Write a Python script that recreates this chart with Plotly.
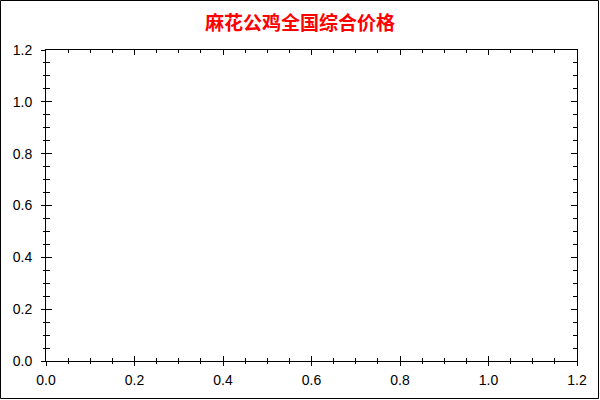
import plotly.graph_objects as go

# Data (the reference chart is empty: no series drawn)
x_values = []
y_values = []
title_text = "麻花公鸡全国综合价格"
x_ticks = [0.0, 0.2, 0.4, 0.6, 0.8, 1.0, 1.2]
y_ticks = [0.0, 0.2, 0.4, 0.6, 0.8, 1.0, 1.2]

W, H = 600, 400
L, R, T, B = 46, 23, 50, 39
pw = W - L - R
ph = H - T - B

fig = go.Figure()
fig.add_trace(go.Scatter(x=x_values, y=y_values, mode="lines", showlegend=False))
fig.add_trace(go.Scatter(x=x_values, y=y_values, xaxis="x2", yaxis="y2",
                         mode="lines", showlegend=False))

font_ticks = dict(family="Liberation Sans, Arial, sans-serif", size=14, color="black")
common = dict(range=[0, 1.2], showgrid=False, zeroline=False, showline=True,
              linecolor="black", linewidth=1, tickcolor="black", tickwidth=1)

fig.update_layout(
    width=W, height=H,
    margin=dict(l=L, r=R, t=T, b=B, autoexpand=False),
    paper_bgcolor="white", plot_bgcolor="white",
    title=dict(text=title_text, x=0.5, xanchor="center", y=1 - 23 / H, yanchor="middle",
               font=dict(family="Noto Sans CJK SC", size=19, color="red", weight="bold")),
    xaxis=dict(**common, tickvals=x_ticks, ticktext=[f"{v:.1f}" for v in x_ticks],
               ticks="outside", ticklen=4, tickfont=font_ticks, mirror=True,
               ticklabelstandoff=2,
               minor=dict(dtick=0.05, ticks="outside", ticklen=2, tickcolor="black")),
    yaxis=dict(**common, tickvals=y_ticks, ticktext=[f"{v:.1f}" for v in y_ticks],
               ticks="outside", ticklen=4, tickfont=font_ticks, mirror=True,
               ticklabelstandoff=6,
               minor=dict(dtick=0.05, ticks="outside", ticklen=2, tickcolor="black")),
    xaxis2=dict(**common, overlaying="x", tickvals=x_ticks, showticklabels=False,
                ticks="inside", ticklen=5, mirror="ticks",
                minor=dict(dtick=0.05, ticks="inside", ticklen=3, tickcolor="black")),
    yaxis2=dict(**common, overlaying="y", tickvals=y_ticks, showticklabels=False,
                ticks="inside", ticklen=6, mirror="ticks",
                minor=dict(dtick=0.05, ticks="inside", ticklen=4, tickcolor="black")),
    shapes=[dict(type="rect", xref="paper", yref="paper",
                 x0=-(L - 0.5) / pw, x1=1 + (R - 1.5) / pw,
                 y0=-(B - 1.5) / ph, y1=1 + (T - 0.5) / ph,
                 line=dict(color="black", width=1), fillcolor="rgba(0,0,0,0)")],
)

fig.write_html("out.html", config={"displayModeBar": False},
               post_script="document.body.style.margin='0';document.body.style.overflow='hidden';")
